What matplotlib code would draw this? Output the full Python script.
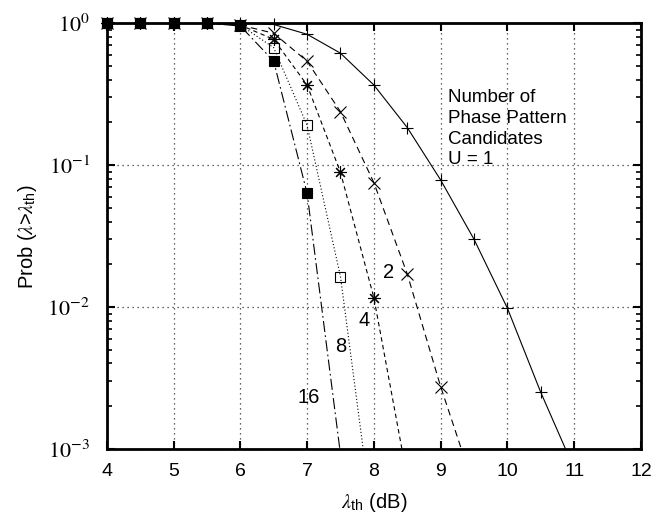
import numpy as np
import matplotlib.pyplot as plt
from matplotlib.ticker import LogLocator, NullFormatter

plt.rcParams['font.family'] = ['Liberation Sans', 'DejaVu Sans']

# markers, read at 0.5 dB steps
mx = [4, 4.5, 5, 5.5, 6, 6.5, 7, 7.5, 8, 8.5, 9, 9.5, 10, 10.5]
u1_m = [1, 1, 1, 1, 1.0, 0.98, 0.836, 0.615, 0.367, 0.184, 0.0786, 0.030, 0.0098, 0.0025]
u2_m = [1, 1, 1, 1, 0.97, 0.85, 0.54, 0.238, 0.0753, 0.0171, 0.00275]
u4_m = [1, 1, 1, 1, 0.97, 0.77, 0.367, 0.089, 0.01164]
u8_m = [1, 1, 1, 1, 0.97, 0.673, 0.191, 0.0164]
u16_m = [1, 1, 1, 1, 0.957, 0.54, 0.0634]

# where each line leaves the plot at the bottom
u1_end = (10.87, 0.001)
u2_end = (9.31, 0.001)
u4_end = (8.42, 0.001)
u8_end = (7.84, 0.001)
u16_end = (7.49, 0.001)

series = [
    ("1", u1_m, u1_end, '-', '+', 'none'),
    ("2", u2_m, u2_end, (0, (6, 4)), 'x', 'none'),
    ("4", u4_m, u4_end, (0, (4, 3)), (8, 2, 0), 'none'),
    ("8", u8_m, u8_end, (0, (1, 2)), 's', 'none'),
    ("16", u16_m, u16_end, (0, (10, 3, 1.5, 3)), 's', 'k'),
]

fig, ax = plt.subplots(figsize=(6.67, 5.16), dpi=100)
fig.subplots_adjust(left=0.160, right=0.961, top=0.955, bottom=0.130)

for name, ym, end, ls, mk, mfc in series:
    xs = mx[:len(ym)]
    ax.plot(list(xs) + [end[0]], list(ym) + [end[1]], color='k', linestyle=ls,
            linewidth=0.8)
    ax.plot(xs, ym, linestyle='none', marker=mk, markersize=9 if mk != 's' else 7,
            markerfacecolor=mfc, markeredgecolor='k', markeredgewidth=0.8,
            clip_on=False, zorder=3)

ax.set_yscale('log')
ax.set_xlim(4, 12)
ax.set_ylim(1e-3, 1)
ax.set_xticks(range(4, 13))
ax.set_yticks([1e-3, 1e-2, 1e-1, 1])
ax.yaxis.set_minor_locator(LogLocator(base=10, subs=range(2, 10)))
ax.yaxis.set_minor_formatter(NullFormatter())
ax.set_yticklabels([r'$10^{-3}$', r'$10^{-2}$', r'$10^{-1}$', r'$10^{0}$'])
for t in ax.get_yticklabels():
    t.set_math_fontfamily('stix')
    t.set_fontsize(16)
ax.tick_params(axis='x', labelsize=14, pad=10)
ax.tick_params(which='both', direction='in', top=True, right=True)
ax.tick_params(which='major', length=6, width=1.5)
ax.tick_params(which='minor', length=3.5, width=1.2)
ax.tick_params(axis='y', pad=12)
for s in ax.spines.values():
    s.set_linewidth(2)

ax.grid(True, which='major', linestyle=(0, (1, 3)), color='#333333', linewidth=0.9)

ax.set_xlabel(r'$\lambda_{\mathregular{th}}$ (dB)', fontsize=14.5, math_fontfamily='stix',
              labelpad=8)
ax.set_ylabel(r'Prob ($\lambda$>$\lambda_{\mathregular{th}}$)', fontsize=14.5,
              math_fontfamily='stix', labelpad=6)

ax.text(9.11, 0.181, "Number of\nPhase Pattern\nCandidates\nU = 1", fontsize=13.5,
        va='center', ha='left', linespacing=1.3)
ax.text(8.22, 0.0175, "2", fontsize=14.5, ha='center', va='center')
ax.text(7.86, 0.0081, "4", fontsize=14.5, ha='center', va='center')
ax.text(7.5, 0.00526, "8", fontsize=14.5, ha='center', va='center')
ax.text(7.03, 0.00231, "16", fontsize=14.5, ha='center', va='center')

plt.savefig("out.png", dpi=100)
